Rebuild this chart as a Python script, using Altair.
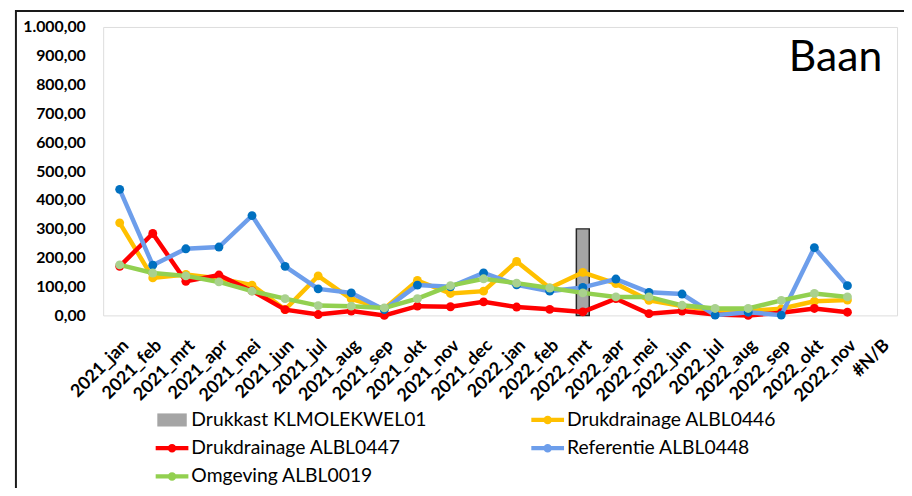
import altair as alt
import pandas as pd

months = ["2021_jan", "2021_feb", "2021_mrt", "2021_apr", "2021_mei", "2021_jun",
          "2021_jul", "2021_aug", "2021_sep", "2021_okt", "2021_nov", "2021_dec",
          "2022_jan", "2022_feb", "2022_mrt", "2022_apr", "2022_mei", "2022_jun",
          "2022_jul", "2022_aug", "2022_sep", "2022_okt", "2022_nov", "#N/B"]

series_names = ["Drukkast KLMOLEKWEL01", "Drukdrainage ALBL0446", "Drukdrainage ALBL0447",
                "Referentie ALBL0448", "Omgeving ALBL0019"]

drukkast_month = ["2022_mrt"]
drukkast_vals = [300]

alb0446 = [321, 130, 142, 128, 105, 20, 137, 57, 23, 121, 76, 84,
           187, 95, 149, 110, 52, 32, 17, 15, 23, 49, 53]
alb0447 = [170, 284, 118, 140, 85, 20, 3, 15, 0, 32, 30, 47,
           29, 21, 12, 58, 6, 15, 3, 0, 9, 24, 11]
alb0448 = [437, 174, 231, 237, 346, 170, 92, 78, 20, 105, 99, 147,
           106, 84, 97, 126, 80, 74, 1, 11, 1, 235, 103]
alb0019 = [175, 147, 137, 116, 84, 58, 34, 32, 26, 58, 103, 127,
           112, 95, 78, 64, 64, 35, 24, 24, 52, 76, 64]

line_colors = ["#a5a5a5", "#ffc000", "#ff0000", "#6d9eeb", "#92d050"]
marker_colors = ["#a5a5a5", "#ffc000", "#ff0000", "#0070c0", "#a9d18e"]

panel_label = "Baan"

FONT = "Lato"

rows = []
for name, vals in zip(series_names[1:], [alb0446, alb0447, alb0448, alb0019]):
    for m, v in zip(months, vals):
        rows.append({"month": m, "value": v, "series": name})
lines_df = pd.DataFrame(rows)
bar_df = pd.DataFrame({"month": drukkast_month, "value": drukkast_vals,
                       "series": [series_names[0]] * len(drukkast_vals)})
legend_df = pd.DataFrame({"month": [months[0]] * 5, "value": [0] * 5, "series": series_names})

# legend fills column-wise: order the domain so rows read like the reference
legend_order = [series_names[0], series_names[2], series_names[4], series_names[1], series_names[3]]
legend_colors = [line_colors[series_names.index(n)] for n in legend_order]

label_expr = ("replace(replace(replace(format(datum.value, ',.2f'), ',', 'X'), '.', ','), 'X', '.')")

x_enc = alt.X("month:N", sort=months,
              scale=alt.Scale(domain=months, paddingInner=0, paddingOuter=0),
              axis=alt.Axis(title=None, labelAngle=-45, labelFont=FONT, labelFontSize=18,
                            labelFontWeight="bold", labelColor="#000",
                            ticks=False, domain=False, labelPadding=21, labelOverlap=False))
y_enc = alt.Y("value:Q",
              scale=alt.Scale(domain=[0, 1000], nice=False),
              axis=alt.Axis(title=None, values=list(range(0, 1001, 100)), labelExpr=label_expr,
                            labelFont=FONT, labelFontSize=16, labelFontWeight="bold",
                            labelColor="#000", ticks=False, domain=False, grid=False,
                            labelPadding=18))

bar = alt.Chart(bar_df).mark_bar(size=13, color="#a5a5a5", stroke="#262626",
                                 strokeWidth=1.5).encode(x=x_enc, y=y_enc)

layers = [bar]
for i, name in enumerate(series_names[1:], start=1):
    base = alt.Chart(lines_df).transform_filter(alt.datum.series == name)
    layers.append(base.mark_line(color=line_colors[i], strokeWidth=4.5).encode(x=x_enc, y=y_enc))
    layers.append(base.mark_circle(color=marker_colors[i], size=80, opacity=1).encode(x=x_enc, y=y_enc))

line_sym = ("M-1,-0.13 L1,-0.13 L1,0.13 L-1,0.13 Z "
            "M-0.26,0 A0.26,0.26 0 1,1 0.26,0 A0.26,0.26 0 1,1 -0.26,0 Z")
bar_sym = "M-0.9,-0.4 L0.9,-0.4 L0.9,0.4 L-0.9,0.4 Z"
legend_shapes = [bar_sym if n == series_names[0] else line_sym for n in legend_order]

legend_cfg = dict(title=None, orient="none", legendX=53, legendY=380,
                  columns=2, columnPadding=105, rowPadding=2.5,
                  labelFont=FONT, labelFontSize=19.5, labelColor="#000",
                  labelOffset=3, symbolSize=1089, symbolStrokeWidth=0,
                  symbolOpacity=1, labelLimit=400)

legend_layer = alt.Chart(legend_df).mark_point(filled=True, opacity=0, size=1089).encode(
    x=x_enc, y=y_enc,
    color=alt.Color("series:N", scale=alt.Scale(domain=legend_order, range=legend_colors),
                    legend=alt.Legend(**legend_cfg)),
    shape=alt.Shape("series:N", scale=alt.Scale(domain=legend_order, range=legend_shapes),
                    legend=alt.Legend(**legend_cfg)),
)
layers.append(legend_layer)

label_df = pd.DataFrame({"label": [panel_label]})
baan = alt.Chart(label_df).mark_text(font=FONT, fontSize=43, color="#000", align="right",
                                     baseline="alphabetic").encode(
    text="label:N", x=alt.value(786), y=alt.value(44))
layers.append(baan)

border_left = alt.Chart(label_df).mark_rule(color="#1a1a1a", strokeWidth=2).encode(
    x=alt.value(-88), y=alt.value(-17), y2=alt.value(480))
border_top = alt.Chart(label_df).mark_rule(color="#1a1a1a", strokeWidth=2).encode(
    x=alt.value(-88), x2=alt.value(810), y=alt.value(-16))
layers += [border_left, border_top]

chart = alt.layer(*layers).properties(
    width=801, height=291,
    autosize=alt.AutoSizeParams(type="none"),
    padding={"left": 96, "top": 17, "right": 7, "bottom": 172},
).configure_view(stroke="#000", strokeWidth=1.5).configure(background="white")

chart.save("out.html", embed_options={"renderer": "svg", "actions": False})
